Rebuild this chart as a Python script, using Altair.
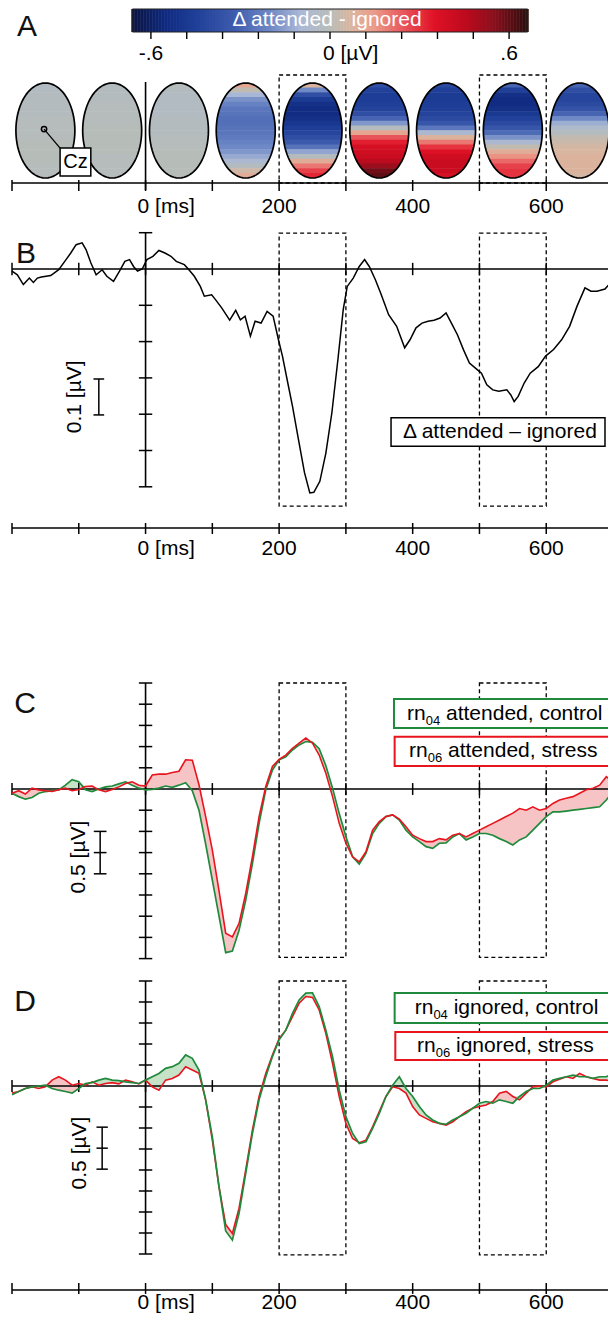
import altair as alt
import numpy as np
import pandas as pd

FONT = "Liberation Sans"
W = 600
XDOM = [-206, 692.5]        # ms
CBX = [-1.0788, 0.9313]     # colour-bar scale (µV)
YA = [-2.0526, 2.5789]      # head units
YB = [-0.80165, 0.11295]    # µV
YC = [-4.1509, 5.4009]      # µV
YD = [-5.4286, 2.881]       # µV
HA, HB, HC, HD = 220, 332, 405, 349

GREEN = "#1f8a3c"
RED = "#e8141e"
PINK = "#f6c4c4"
LGREEN = "#c6e2c7"

# ---------------- data ----------------
TICKS_MS = [-200, -100, 0, 100, 200, 300, 400, 500, 600, 700]
LABEL_MS = [200, 400, 600]
LABEL_TXT = ["200", "400", "600"]
WIN_START = [200, 500]
WIN_END = [300, 600]

CB_TICKS = [-0.6, -0.48, -0.36, -0.24, -0.12, 0.0, 0.12, 0.24, 0.36, 0.48, 0.6]
CB_LAB_VALS = [-0.6, 0.6]
CB_LAB_TXT = ["-.6", ".6"]
CMAP_DOMAIN = [-0.66, -0.55, -0.45, -0.32, -0.2, -0.1, 0.0, 0.07, 0.15, 0.25, 0.35, 0.45, 0.55, 0.66]
CMAP_RANGE = ["#0b1442", "#0f2a80", "#1f3f98", "#3e5cae", "#6f89c6", "#a9b7d6", "#b6bcb8",
              "#d9b6a0", "#eb9a88", "#e9545a", "#e01226", "#c00a1e", "#8a0f1c", "#2e0c0c"]

TOPO_MS = [-150, -50, 50, 150, 250, 350, 450, 550, 650]
# vertical profiles (top -> bottom) of each map, µV
TOPO_1 = [-0.03, -0.03, -0.02, -0.02, -0.02, -0.02, -0.02, -0.01, -0.01, -0.01,
          -0.01, -0.01, 0.0, 0.0, 0.0, 0.0, 0.0, -0.01, -0.01, -0.01]
TOPO_2 = [-0.02, -0.02, -0.02, -0.02, -0.01, -0.01, -0.01, -0.01, -0.01, 0.0,
          0.0, 0.0, 0.0, 0.0, 0.0, -0.01, -0.01, -0.01, -0.01, -0.01]
TOPO_3 = [-0.01, -0.02, -0.03, -0.03, -0.03, -0.03, -0.03, -0.02, -0.02, -0.02,
          -0.02, -0.01, -0.01, -0.01, 0.0, 0.0, 0.0, 0.0, 0.0, 0.0]
TOPO_4 = [0.12, 0.02, -0.1, -0.18, -0.22, -0.25, -0.26, -0.27, -0.27, -0.26,
          -0.25, -0.24, -0.22, -0.2, -0.17, -0.13, -0.08, -0.02, 0.05, 0.1]
TOPO_5 = [0.08, -0.2, -0.38, -0.47, -0.52, -0.54, -0.54, -0.52, -0.49, -0.46,
          -0.42, -0.38, -0.33, -0.26, -0.14, -0.02, 0.1, 0.2, 0.28, 0.32]
TOPO_6 = [-0.38, -0.44, -0.46, -0.46, -0.45, -0.43, -0.38, -0.3, -0.17, -0.02,
          0.12, 0.25, 0.33, 0.38, 0.4, 0.42, 0.46, 0.52, 0.58, 0.6]
TOPO_7 = [-0.4, -0.45, -0.47, -0.47, -0.46, -0.45, -0.43, -0.4, -0.35, -0.25,
          -0.08, 0.08, 0.2, 0.3, 0.36, 0.4, 0.42, 0.42, 0.42, 0.38]
TOPO_8 = [-0.3, -0.45, -0.52, -0.54, -0.54, -0.52, -0.48, -0.44, -0.4, -0.35,
          -0.28, -0.18, -0.08, 0.02, 0.1, 0.16, 0.22, 0.28, 0.3, 0.3]
TOPO_9 = [-0.3, -0.38, -0.42, -0.42, -0.4, -0.36, -0.3, -0.2, -0.12, -0.06,
          -0.02, 0.02, 0.04, 0.06, 0.07, 0.08, 0.08, 0.08, 0.08, 0.06]
TOPOS = [TOPO_1, TOPO_2, TOPO_3, TOPO_4, TOPO_5, TOPO_6, TOPO_7, TOPO_8, TOPO_9]

# Panel B: difference wave (attended - ignored), µV
B_MS = [-200, -192, -183, -174, -168, -162, -156, -142, -130, -121, -112, -104, -95, -89, -82,
        -74, -65, -58, -48, -39, -31, -24, -18, -12, -5, 2, 11, 20, 29, 38, 46, 58, 64, 73,
        82, 88, 99, 105, 114, 126, 135, 142, 149, 157, 164, 173, 182, 191, 199, 205, 214,
        220, 229, 238, 246, 252, 261, 270, 279, 288, 296, 302, 311, 320, 328, 335, 344, 352,
        364, 376, 388, 396, 405, 414, 423, 432, 441, 450, 458, 467, 476, 485, 494, 503, 511,
        520, 529, 541, 547, 552, 558, 567, 576, 588, 599, 611, 623, 635, 646, 658, 667, 676,
        688, 696, 700]
B_UV = [-0.006, -0.016, -0.043, -0.025, -0.037, -0.025, -0.022, -0.018, -0.002, 0.021, 0.044,
        0.067, 0.072, 0.053, 0.017, -0.016, -0.002, -0.02, -0.034, -0.006, 0.021, 0.026, 0.007,
        -0.006, 0.0, 0.026, 0.035, 0.051, 0.044, 0.035, 0.021, 0.012, 0.0, -0.02, -0.048,
        -0.075, -0.071, -0.085, -0.107, -0.141, -0.114, -0.14, -0.13, -0.185, -0.144, -0.149,
        -0.117, -0.13, -0.195, -0.24, -0.323, -0.378, -0.47, -0.561, -0.617, -0.615, -0.585,
        -0.507, -0.396, -0.25, -0.112, -0.048, -0.025, 0.007, 0.026, 0.007, -0.029, -0.066,
        -0.126, -0.158, -0.217, -0.195, -0.162, -0.149, -0.144, -0.141, -0.135, -0.121, -0.149,
        -0.181, -0.222, -0.259, -0.273, -0.287, -0.319, -0.333, -0.337, -0.333, -0.347, -0.365,
        -0.351, -0.314, -0.287, -0.269, -0.24, -0.222, -0.195, -0.158, -0.103, -0.052, -0.061,
        -0.061, -0.055, -0.039, -0.029]

# Panels C / D: ERPs sampled every 10 ms from -200 to 700 ms, µV
T_GRID = list(range(-200, 701, 10))
C_CONTROL = [-0.10, -0.18, -0.24, -0.20, -0.10, -0.06, -0.04, -0.02, 0.09, 0.22,
             0.17, -0.02, -0.06, 0.00, 0.05, 0.07, 0.12, 0.17, 0.09, 0.02,
             -0.02, -0.01, 0.02, 0.07, 0.04, 0.09, 0.15, -0.04, -0.50, -1.30,
             -2.15, -3.00, -3.86, -3.82, -3.33, -2.62, -1.76, -0.81, -0.02, 0.45,
             0.69, 0.76, 0.92, 1.04, 1.12, 1.10, 0.95, 0.55, 0.02, -0.58,
             -1.12, -1.60, -1.77, -1.52, -1.05, -0.81, -0.65, -0.61, -0.73, -0.97,
             -1.13, -1.24, -1.36, -1.40, -1.28, -1.27, -1.13, -1.05, -1.20, -1.13,
             -1.05, -1.05, -1.09, -1.17, -1.24, -1.32, -1.20, -1.13, -0.97, -0.81,
             -0.65, -0.54, -0.54, -0.52, -0.50, -0.48, -0.46, -0.44, -0.42, -0.26,
             -0.06]
C_STRESS = [-0.10, -0.04, -0.12, 0.02, -0.02, -0.04, -0.06, -0.02, 0.02, -0.04,
            -0.01, 0.06, 0.07, -0.02, -0.06, -0.01, 0.05, 0.13, 0.17, 0.09,
            0.07, 0.33, 0.35, 0.35, 0.39, 0.42, 0.69, 0.68, 0.10, -0.65,
            -1.44, -2.40, -3.40, -3.49, -3.17, -2.46, -1.60, -0.65, 0.06, 0.53,
            0.70, 0.80, 0.96, 1.08, 1.20, 1.08, 0.80, 0.37, -0.18, -0.81,
            -1.28, -1.60, -1.72, -1.48, -0.97, -0.77, -0.65, -0.61, -0.71, -0.89,
            -1.09, -1.17, -1.24, -1.24, -1.17, -1.20, -1.09, -1.05, -1.13, -1.05,
            -0.97, -0.89, -0.81, -0.73, -0.65, -0.57, -0.46, -0.50, -0.42, -0.50,
            -0.46, -0.34, -0.26, -0.22, -0.18, -0.10, -0.02, 0.02, 0.09, 0.29,
            0.17]
D_CONTROL = [-0.21, -0.13, -0.06, -0.02, 0.00, 0.02, -0.06, -0.10, -0.13, -0.17,
             -0.06, 0.06, 0.08, 0.14, 0.18, 0.14, 0.13, 0.10, 0.08, 0.06,
             0.14, 0.22, 0.30, 0.42, 0.46, 0.54, 0.74, 0.66, 0.38, -0.33,
             -1.21, -2.40, -3.45, -3.67, -3.03, -2.08, -1.13, -0.33, 0.22, 0.70,
             1.10, 1.33, 1.73, 2.05, 2.21, 2.22, 1.89, 1.33, 0.70, -0.10,
             -0.73, -1.13, -1.37, -1.33, -1.01, -0.65, -0.25, 0.02, 0.22, -0.06,
             -0.25, -0.49, -0.69, -0.81, -0.89, -0.91, -0.81, -0.73, -0.65, -0.53,
             -0.41, -0.37, -0.41, -0.33, -0.37, -0.41, -0.25, -0.13, -0.06, -0.06,
             0.02, 0.14, 0.18, 0.22, 0.26, 0.22, 0.22, 0.18, 0.22, 0.22,
             0.30]
D_STRESS = [-0.17, -0.13, -0.06, -0.02, -0.06, -0.02, 0.14, 0.22, 0.14, 0.02,
            0.06, 0.02, 0.10, 0.02, 0.06, 0.08, 0.05, 0.14, 0.10, 0.05,
            0.14, -0.02, -0.10, 0.14, 0.18, 0.26, 0.46, 0.38, 0.30, -0.33,
            -1.29, -2.40, -3.30, -3.51, -2.91, -2.00, -1.05, -0.25, 0.30, 0.74,
            1.13, 1.33, 1.65, 1.97, 2.13, 2.11, 1.81, 1.25, 0.54, -0.25,
            -0.89, -1.25, -1.35, -1.29, -0.97, -0.61, -0.25, -0.02, -0.06, -0.17,
            -0.49, -0.69, -0.77, -0.85, -0.89, -0.93, -0.85, -0.73, -0.61, -0.53,
            -0.49, -0.45, -0.37, -0.17, -0.13, -0.25, -0.33, -0.17, -0.02, 0.00,
            -0.02, 0.10, 0.16, 0.22, 0.18, 0.30, 0.22, 0.18, 0.14, 0.14,
            0.10]

LEG_SUB = ["04", "06"]
LEG_C_TXT = ["attended, control", "attended, stress"]
LEG_D_TXT = ["ignored, control", "ignored, stress"]

# ---------------- helpers ----------------
CSCALE = alt.Scale(domain=CMAP_DOMAIN, range=CMAP_RANGE, interpolate="rgb", clamp=True)


def X(f, dom=XDOM):
    return alt.X(f"{f}:Q", scale=alt.Scale(domain=dom, nice=False, zero=False), axis=None)


def Y(f, dom):
    return alt.Y(f"{f}:Q", scale=alt.Scale(domain=dom, nice=False, zero=False), axis=None)


def _frame(x0, x1, y0, y1):
    vals = [x0, x1, y0, y1]
    n = max(len(v) if isinstance(v, list) else 1 for v in vals)
    L = [v if isinstance(v, list) else [v] * n for v in vals]
    return pd.DataFrame({"x0": L[0], "x1": L[1], "y0": L[2], "y1": L[3]})


def segs(x0, x1, y0, y1, ydom, xdom=XDOM, **mk):
    mk.setdefault("color", "black")
    mk.setdefault("strokeWidth", 1.5)
    mk.setdefault("clip", True)
    return alt.Chart(_frame(x0, x1, y0, y1)).mark_rule(**mk).encode(
        x=X("x0", xdom), x2="x1", y=Y("y0", ydom), y2="y1")


def rects(x0, x1, y0, y1, ydom, xdom=XDOM, **mk):
    mk.setdefault("clip", True)
    return alt.Chart(_frame(x0, x1, y0, y1)).mark_rect(**mk).encode(
        x=X("x0", xdom), x2="x1", y=Y("y0", ydom), y2="y1")


def texts(xs, ys, labels, ydom, xdom=XDOM, **mk):
    mk.setdefault("font", FONT)
    mk.setdefault("fontSize", 21)
    mk.setdefault("color", "black")
    mk.setdefault("align", "center")
    mk.setdefault("baseline", "middle")
    mk.setdefault("clip", True)
    d = pd.DataFrame({"x": xs, "y": ys, "label": labels})
    return alt.Chart(d).mark_text(**mk).encode(x=X("x", xdom), y=Y("y", ydom), text="label:N")


def time_axis(ydom, yline, yt0, yt1, ylab=None, baseline="middle"):
    L = [segs(-200, 700, yline, yline, ydom, strokeWidth=1.6),
         segs(TICKS_MS, TICKS_MS, yt0, yt1, ydom, strokeWidth=1.5)]
    if ylab is not None:
        L.append(texts([0], [ylab], ["0 [ms]"], ydom, align="left", dx=-8, baseline=baseline))
        L.append(texts(LABEL_MS, [ylab] * 3, LABEL_TXT, ydom, baseline=baseline))
    return L


def value_axis(ydom, ticks, half=10):
    return [segs(0, 0, max(ticks), min(ticks), ydom, strokeWidth=1.6),
            segs(-half, half, ticks, ticks, ydom, strokeWidth=1.5)]


def windows(ydom, top, bottom):
    return rects(WIN_START, WIN_END, top, bottom, ydom, fill="white", fillOpacity=0,
                 stroke="black", strokeWidth=1.3, strokeDash=[4, 3])


def scale_bar(ydom, x, caps, hw, label, lx, ly):
    return [segs(x, x, max(caps), min(caps), ydom, strokeWidth=1.5),
            segs(x - hw, x + hw, caps, caps, ydom, strokeWidth=1.5),
            texts([lx], [ly], [label], ydom, angle=270)]


def legend_entry(ydom, xs, xb0, yb0, yb1, yt, color, sub, rest):
    return [rects(xb0, 700, yb0, yb1, ydom, fill="white", stroke=color, strokeWidth=2),
            texts([xs], [yt], ["rn"], ydom, align="left"),
            texts([xs], [yt], [sub], ydom, align="left", dx=18.7, dy=7, fontSize=13),
            texts([xs], [yt], [rest], ydom, align="left", dx=39)]


def letter(ch, x, y, ydom):
    return texts([x], [y], [ch], ydom, fontSize=30, color="#111")


# ---------------- panel A ----------------
cb_vals = np.round(np.arange(-0.66, 0.6601, 0.01), 3)
CB_TOP = 2.5579
cb = pd.DataFrame({"v": cb_vals, "x0": cb_vals - 0.0058, "x1": cb_vals + 0.0058,
                   "y0": 2.074, "y1": CB_TOP})
cb_layer = alt.Chart(cb).mark_rect(clip=True).encode(
    x=X("x0", CBX), x2="x1", y=Y("y0", YA), y2="y1",
    color=alt.Color("v:Q", scale=CSCALE, legend=None))

rows = []
for c, prof in zip(TOPO_MS, TOPOS):
    for k, v in enumerate(prof):
        rows.append({"x0": c - 45, "x1": c + 45, "y0": 1 - k * 0.1 + 0.006,
                     "y1": 1 - (k + 1) * 0.1 - 0.006, "v": v})
topo = pd.DataFrame(rows)
topo_layer = alt.Chart(topo).mark_rect(clip=True).encode(
    x=X("x0"), x2="x1", y=Y("y0", YA), y2="y1",
    color=alt.Color("v:Q", scale=CSCALE, legend=None))

EX = 0.621
ang = np.linspace(0, 2 * np.pi, 73)[:-1]
ELL = "M" + " L".join(f"{EX*np.sin(a):.4f},{-np.cos(a):.4f}" for a in ang) + " Z"
HOLE = "M" + " L".join(f"{-EX*np.sin(a):.4f},{-np.cos(a):.4f}" for a in ang) + " Z"
MASK = "M-0.70,-1.07 L0.70,-1.07 L0.70,1.07 L-0.70,1.07 Z " + HOLE
centers = pd.DataFrame({"t": TOPO_MS, "y": [0.0] * len(TOPO_MS)})
mask_layer = alt.Chart(centers).mark_point(
    shape=MASK, size=9025, filled=True, color="white", opacity=1, strokeWidth=0, clip=True).encode(
    x=X("t"), y=Y("y", YA))
ell_layer = alt.Chart(centers).mark_point(
    shape=ELL, size=9025, filled=False, color="black", opacity=1, strokeWidth=1.7, clip=True).encode(
    x=X("t"), y=Y("y", YA))

cz_dot = alt.Chart(pd.DataFrame({"t": [-152], "y": [0.03]})).mark_point(
    shape="circle", size=28, filled=False, color="black", opacity=1, strokeWidth=1.5,
    clip=True).encode(x=X("t"), y=Y("y", YA))

panel_a = alt.layer(
    cb_layer,
    rects(-0.66, 0.66, 2.074, CB_TOP, YA, CBX, fill="white", fillOpacity=0,
          stroke="#222", strokeWidth=1.2),
    segs(CB_TICKS, CB_TICKS, 2.074, 1.926, YA, CBX, strokeWidth=1.4),
    texts(CB_LAB_VALS, [1.611, 1.611], CB_LAB_TXT, YA, CBX),
    texts([0.0], [1.611], ["0 [µV]"], YA, CBX, align="left", dx=-7),
    texts([-0.0101], [2.326], ["Δ attended - ignored"], YA, CBX, color="white"),
    topo_layer, mask_layer, ell_layer,
    windows(YA, 1.168, -1.105),
    segs(0, 0, 1.021, -1.253, YA, strokeWidth=1.6),
    *time_axis(YA, -1.105, -1.042, -1.274, -1.611),
    segs(-152, -128, 0.03, -0.37, YA, strokeWidth=1.3),
    cz_dot,
    rects(-128, -82, -0.368, -0.958, YA, fill="white", stroke="black", strokeWidth=1.5),
    texts([-105], [-0.663], ["Cz"], YA, fontSize=20),
    letter("A", -177.5, 2.189, YA),
).resolve_scale(x="independent").properties(width=W, height=HA)

# ---------------- panel B ----------------
bdf = pd.DataFrame({"t": B_MS, "v": B_UV})
B_TICKS = [0.1, -0.1, -0.2, -0.3, -0.4, -0.5, -0.6]
panel_b = alt.layer(
    windows(YB, 0.099, -0.653),
    *time_axis(YB, 0.0, 0.017, -0.017),
    segs(0, 0, 0.1, -0.6, YB, strokeWidth=1.6),
    segs(-10, 10, B_TICKS, B_TICKS, YB, strokeWidth=1.5),
    *time_axis(YB, -0.7135, -0.6997, -0.730, -0.771),
    *scale_bar(YB, -70, [-0.303, -0.402], 8, "0.1 [µV]", -106, -0.352),
    alt.Chart(bdf).mark_line(color="black", strokeWidth=1.5, clip=True).encode(
        x=X("t"), y=Y("v", YB)),
    rects(367.6, 688, -0.41, -0.488, YB, fill="white", stroke="black", strokeWidth=1.5),
    texts([530.6], [-0.449], ["Δ attended – ignored"], YB),
    letter("B", -179, 0.041, YB),
).properties(width=W, height=HB)


# ---------------- panels C / D ----------------
def erp_layers(ydom, green, red, red_on_top=True):
    d = pd.DataFrame({"t": T_GRID, "g": green, "r": red})
    base = alt.Chart(d).transform_calculate(hi="max(datum.g, datum.r)")
    pink = base.mark_area(color=PINK, opacity=1, clip=True).encode(
        x=X("t"), y=Y("hi", ydom), y2="g:Q")
    lgr = base.mark_area(color=LGREEN, opacity=1, clip=True).encode(
        x=X("t"), y=Y("hi", ydom), y2="r:Q")
    gl = base.mark_line(color=GREEN, strokeWidth=1.7, clip=True).encode(x=X("t"), y=Y("g", ydom))
    rl = base.mark_line(color=RED, strokeWidth=1.6, clip=True).encode(x=X("t"), y=Y("r", ydom))
    return [pink, lgr], ([gl, rl] if red_on_top else [rl, gl])


CD_TICKS = [2.5, 2.0, 1.5, 1.0, 0.5, -0.5, -1.0, -1.5, -2.0, -2.5, -3.0, -3.5, -4.0]

fills_c, lines_c = erp_layers(YC, C_CONTROL, C_STRESS, True)
panel_c = alt.layer(
    *fills_c,
    windows(YC, 2.5, -3.97),
    *time_axis(YC, 0.0, 0.14, -0.14),
    *value_axis(YC, CD_TICKS),
    *scale_bar(YC, -68, [-1.0, -1.5, -2.0], 9.5, "0.5 [µV]", -100, -1.604),
    *lines_c,
    *legend_entry(YC, 391.5, 372, 2.12, 1.44, 1.78, GREEN, LEG_SUB[0], LEG_C_TXT[0]),
    *legend_entry(YC, 394.5, 373, 1.23, 0.54, 0.885, RED, LEG_SUB[1], LEG_C_TXT[1]),
    letter("C", -180.5, 2.005, YC),
).properties(width=W, height=HC)

fills_d, lines_d = erp_layers(YD, D_CONTROL, D_STRESS, False)
panel_d = alt.layer(
    *fills_d,
    windows(YD, 2.5, -4.02),
    *time_axis(YD, 0.0, 0.14, -0.14),
    *value_axis(YD, CD_TICKS),
    *scale_bar(YD, -65, [-0.98, -1.48, -1.98], 8.5, "0.5 [µV]", -98, -1.595),
    *lines_d,
    *legend_entry(YD, 403, 373, 2.214, 1.5, 1.857, GREEN, LEG_SUB[0], LEG_D_TXT[0]),
    *legend_entry(YD, 406.5, 374, 1.286, 0.619, 0.952, RED, LEG_SUB[1], LEG_D_TXT[1]),
    *time_axis(YD, -4.857, -4.69, -4.95, -5.40, baseline="bottom"),
    letter("D", -180.5, 2.0, YD),
).properties(width=W, height=HD)

chart = alt.vconcat(panel_a, panel_b, panel_c, panel_d, spacing=0, bounds="flush") \
    .configure_view(stroke=None).properties(padding=0)

chart.save("out.html", embed_options={"renderer": "svg", "actions": False})
